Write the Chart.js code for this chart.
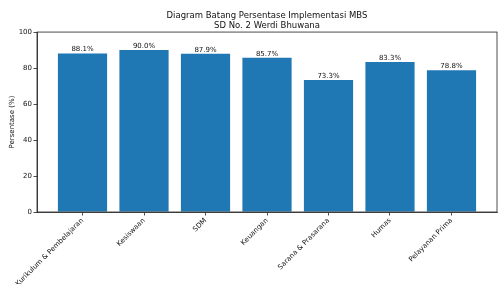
<!DOCTYPE html>
<html><head><meta charset="utf-8">
<script src="https://cdn.jsdelivr.net/npm/chart.js@4/dist/chart.umd.min.js"></script>
<style>html,body{margin:0;padding:0;background:#fff}#w{width:499px;height:284px}</style>
</head><body><div id="w"><canvas id="c"></canvas></div>
<script>
const categories = ["Kurikulum & Pembelajaran","Kesiswaan","SDM","Keuangan","Sarana & Prasarana","Humas","Pelayanan Prima"];
const values = [88.1, 90.0, 87.9, 85.7, 73.3, 83.3, 78.8];
const yTicks = [0, 20, 40, 60, 80, 100];
const titleLines = ["Diagram Batang Persentase Implementasi MBS", "SD No. 2 Werdi Bhuwana"];
const yLabel = "Persentase (%)";

const FONT = "'DejaVu Sans', sans-serif";
const frame = {
  id: 'frame',
  afterDatasetsDraw(chart) {
    const {ctx, chartArea: a} = chart;
    ctx.save();
    ctx.strokeStyle = '#222'; ctx.lineWidth = 0.8;
    ctx.strokeRect(a.left, a.top, a.right - a.left, a.bottom - a.top);
    ctx.restore();
  }
};
const valueLabels = {
  id: 'valueLabels',
  afterDatasetsDraw(chart) {
    const {ctx} = chart;
    const meta = chart.getDatasetMeta(0);
    ctx.save();
    ctx.font = "7px " + FONT;
    ctx.fillStyle = '#111';
    ctx.textAlign = 'center';
    ctx.textBaseline = 'bottom';
    meta.data.forEach((bar, i) => {
      ctx.fillText(values[i].toFixed(1) + '%', bar.x, bar.y - 0.5);
    });
    ctx.restore();
  }
};

new Chart(document.getElementById('c'), {
  type: 'bar',
  data: {
    datasets: [{
      data: values.map((v, i) => ({x: i, y: v})),
      backgroundColor: '#1f77b4',
      borderWidth: 0,
      barPercentage: 0.8,
      categoryPercentage: 1.0
    }]
  },
  plugins: [frame, valueLabels],
  options: {
    responsive: true,
    maintainAspectRatio: false,
    animation: false,
    layout: {padding: {top: 0, right: 2, left: 0, bottom: 0}},
    plugins: {
      legend: {display: false},
      tooltip: {enabled: false},
      title: {
        display: true, text: titleLines, fullSize: false,
        color: '#111', font: {family: FONT, size: 8.5, weight: 'normal', lineHeight: 1.18},
        padding: {top: 10.5, bottom: 1.5}
      }
    },
    scales: {
      x: {
        type: 'linear', min: -0.74, max: 6.74, offset: false,
        afterBuildTicks: s => { s.ticks = categories.map((c, i) => ({value: i})); },
        afterFit: s => { s.height = 72; },
        grid: {display: true, offset: false, drawOnChartArea: false, drawTicks: true, tickLength: 3.5, color: '#222', lineWidth: 0.8},
        border: {display: true, color: '#222', width: 0.8},
        ticks: {
          autoSkip: false, minRotation: 45, maxRotation: 45, padding: 1,
          color: '#111', font: {family: FONT, size: 7},
          callback: v => categories[v]
        }
      },
      y: {
        min: 0, max: 100,
        afterBuildTicks: s => { s.ticks = yTicks.map(v => ({value: v})); },
        afterFit: s => { s.width = 37; },
        grid: {display: true, drawOnChartArea: false, drawTicks: true, tickLength: 3.5, color: '#222', lineWidth: 0.8},
        border: {display: true, color: '#222', width: 0.8},
        title: {display: true, text: yLabel, color: '#111', font: {family: FONT, size: 7}, padding: {top: 8, bottom: 0}},
        ticks: {color: '#111', font: {family: FONT, size: 7}, padding: 1.5}
      }
    }
  }
});
</script>
</body></html>
